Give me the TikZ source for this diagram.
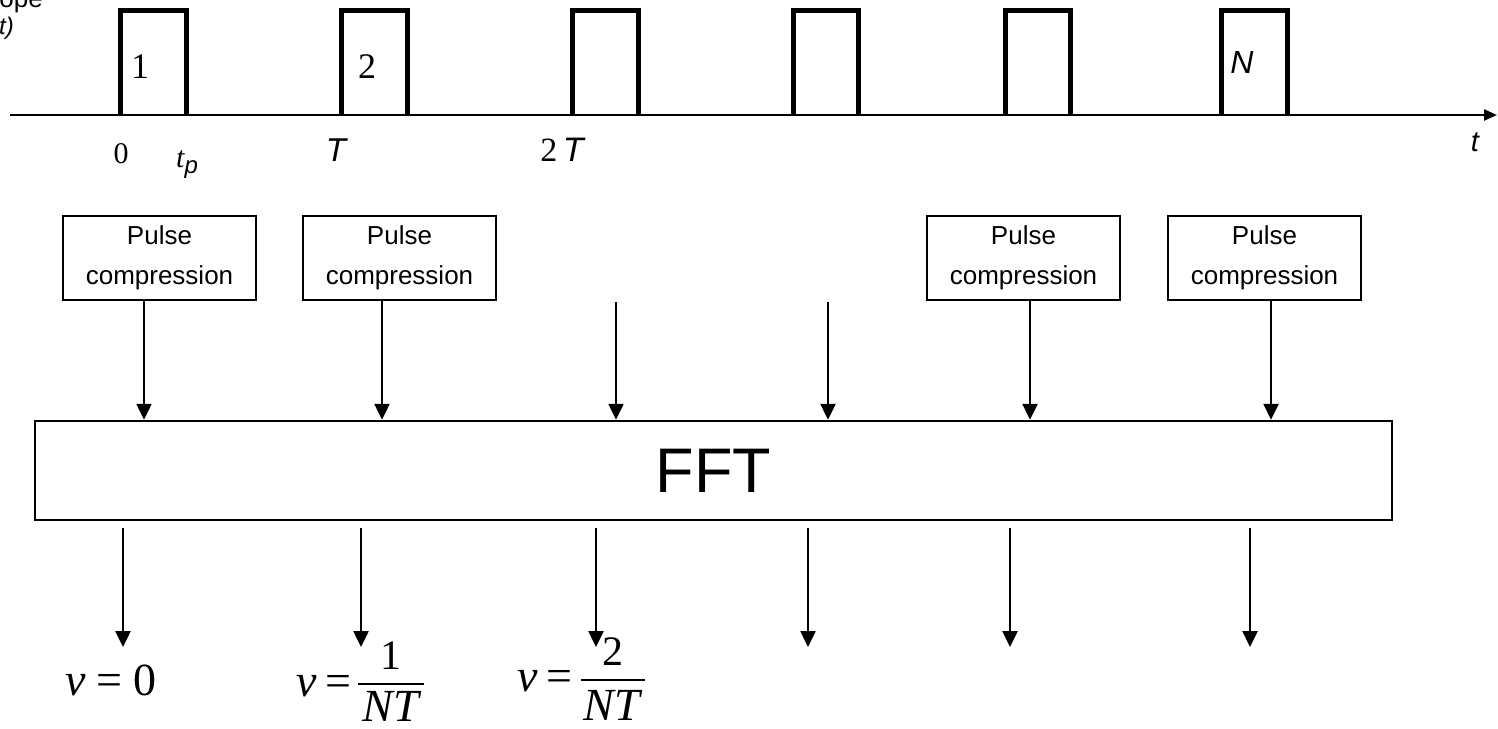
\documentclass[tikz,border=0pt]{standalone}
\usepackage{fontspec}
\setmainfont{Liberation Serif}
\newfontfamily\arialf{Liberation Sans}
\usetikzlibrary{arrows.meta}
\begin{document}
\begin{tikzpicture}[x=1pt,y=-1pt,
  pulse/.style={line width=5pt, line join=miter},
  axisline/.style={line width=2.5pt,-{Triangle[length=13pt,width=11pt]}},
  pcbox/.style={draw, line width=2pt, minimum width=193pt, minimum height=84pt, inner sep=0pt, align=center, font=\arialf\fontsize{26}{40}\selectfont},
  fftbox/.style={draw, line width=2.5pt, minimum width=1357pt, minimum height=99pt, inner sep=0pt, font=\arialf\fontsize{63}{70}\selectfont},
  arr/.style={line width=2.5pt,-{Triangle[length=16pt,width=15pt]}},
  serifnum/.style={inner sep=0pt, font=\fontsize{36}{40}\selectfont},
  sansit/.style={inner sep=0pt, font=\arialf\itshape\fontsize{33}{36}\selectfont},
  nulabel/.style={inner sep=0pt, anchor=base west, font=\fontsize{46}{50}\selectfont},
  fracnum/.style={inner sep=0pt, anchor=base, font=\fontsize{42}{46}\selectfont},
  fracden/.style={inner sep=0pt, anchor=base, font=\itshape\fontsize{46}{50}\selectfont},
  fracbar/.style={line width=2pt}
]
\useasboundingbox (0,0) rectangle (1498,728);
\clip (0,0) rectangle (1498,728);

% cut-off title at top left
\node[inner sep=0pt, anchor=base east, font=\arialf\fontsize{26}{30}\selectfont] (ttl1) at (43,8) {ope};
\node[inner sep=0pt, anchor=base east, font=\arialf\itshape\fontsize{24}{28}\selectfont] (ttl2) at (14,34) {t)};

% time axis
\coordinate (ax0) at (10,115);
\coordinate (ax1) at (1497,115);
\draw[axisline] (ax0) -- (ax1);

% pulses
\foreach \l/\r in {120/186, 341/407, 572/638, 793/858, 1005/1070, 1221/1287}{
  \draw[pulse] (\l,115) -- (\l,10.5) -- (\r,10.5) -- (\r,115);
}

% labels of pulses
\node[serifnum] (n1) at (140,67) {1};
\node[serifnum] (n2) at (367,67) {2};
\node[sansit, font=\arialf\itshape\fontsize{32}{36}\selectfont] (nN) at (1242,62) {N};

% axis labels
\node[inner sep=0pt, font=\fontsize{30}{34}\selectfont] (z0) at (121,154) {0};
\node[inner sep=0pt, anchor=base west, font=\fontsize{30}{34}\selectfont] (ztp) at (176,167) {\itshape t\raisebox{-6pt}{\arialf\itshape\fontsize{24}{28}\selectfont p}};
\node[sansit] (zT) at (336,150) {T};
\node[inner sep=0pt, font=\fontsize{34}{38}\selectfont] (z2T) at (562,150) {2\,{\arialf\itshape T}};
\node[sansit, font=\arialf\itshape\fontsize{29}{32}\selectfont] (zt) at (1475,142) {t};

% pulse compression boxes
\node[pcbox] (pc1) at (159.5,258) {Pulse\\compression};
\node[pcbox] (pc2) at (399.5,258) {Pulse\\compression};
\node[pcbox] (pc3) at (1023.5,258) {Pulse\\compression};
\node[pcbox] (pc4) at (1264.5,258) {Pulse\\compression};

% FFT
\node[fftbox] (fft) at (713.5,470.5) {FFT};

% input arrows
\coordinate (c1) at (144,0);
\coordinate (c2) at (382,0);
\coordinate (c3) at (616,0);
\coordinate (c4) at (828,0);
\coordinate (c5) at (1030,0);
\coordinate (c6) at (1271,0);
\coordinate (s3) at (616,302);
\coordinate (s4) at (828,302);
\draw[arr] (pc1.south -| c1) -- (fft.north -| c1);
\draw[arr] (pc2.south -| c2) -- (fft.north -| c2);
\draw[arr] (s3) -- (fft.north -| c3);
\draw[arr] (s4) -- (fft.north -| c4);
\draw[arr] (pc3.south -| c5) -- (fft.north -| c5);
\draw[arr] (pc4.south -| c6) -- (fft.north -| c6);

% output arrows
\foreach \i/\x in {1/123, 2/361, 3/596, 4/808, 5/1010, 6/1250}{
  \coordinate (o\i) at (\x,0);
  \coordinate (e\i) at (\x,647);
  \draw[arr, shorten <=7pt] (fft.south -| o\i) -- (e\i);
}

% frequency labels
\node[nulabel] (nu0) at (65,695) {\itshape ν\upshape\hspace{11pt}=\hspace{11pt}0};

\node[nulabel] (nu1) at (296,696) {\itshape ν\upshape\hspace{9pt}=};
\node[fracnum] (num1) at (391,669) {1};
\node[fracden] (den1) at (391,721) {NT};
\coordinate (b1a) at (358,684);
\coordinate (b1b) at (424,684);
\draw[fracbar] (b1a) -- (b1b);

\node[nulabel] (nu2) at (517,691) {\itshape ν\upshape\hspace{9pt}=};
\node[fracnum] (num2) at (613,665) {2};
\node[fracden] (den2) at (612,720) {NT};
\coordinate (b2a) at (581,680);
\coordinate (b2b) at (645,680);
\draw[fracbar] (b2a) -- (b2b);
\end{tikzpicture}
\end{document}
